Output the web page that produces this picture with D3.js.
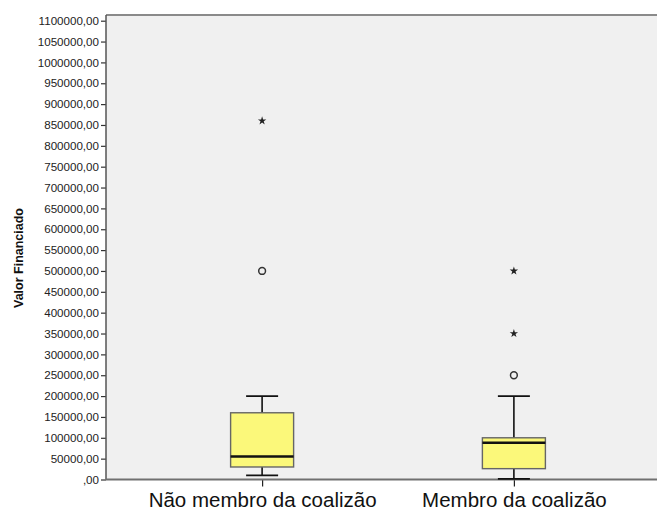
<!DOCTYPE html>
<html>
<head>
<meta charset="utf-8">
<script src="https://cdn.jsdelivr.net/npm/d3@7"></script>
<style>
  html, body { margin: 0; padding: 0; background: #ffffff; }
  svg { display: block; font-family: "Liberation Sans", Arial, sans-serif; }
</style>
</head>
<body>
<svg id="chart" width="657" height="511"></svg>
<script>
// Groups and their five-number summaries (Valor Financiado)
const categories = ["Não membro da coalizão", "Membro da coalizão"];
const whiskerLow = [10000, 1500];
const q1 = [30000, 26000];
const median = [55000, 88000];
const q3 = [160000, 100000];
const whiskerHigh = [200000, 200000];
// Outliers: circles (mild) and stars (extreme)
const mildOutliers = [[500000], [250000]];
const extremeOutliers = [[860000], [500000, 350000]];
const yTicks = d3.range(0, 1100001, 50000);

const svg = d3.select("#chart");
const plot = { left: 106, right: 670, top: 15, bottom: 479.5 };

const x = d3.scalePoint().domain(categories).range([plot.left, plot.right]).padding(0.62);
const y = d3.scaleLinear().domain([0, 1100000]).range([plot.bottom, 20.7]);

// Plot background
svg.append("rect")
  .attr("x", plot.left).attr("y", plot.top)
  .attr("width", 657 - plot.left).attr("height", plot.bottom - plot.top)
  .attr("fill", "#f0f0f0");

// Top frame line
svg.append("line")
  .attr("x1", plot.left).attr("x2", 657)
  .attr("y1", plot.top).attr("y2", plot.top)
  .attr("stroke", "#8a8a8a").attr("stroke-width", 2);

// Y axis
const fmt = d => (d === 0 ? "" : String(d)) + ",00";
const yAxis = svg.append("g")
  .attr("transform", `translate(${plot.left},0)`)
  .call(d3.axisLeft(y).tickValues(yTicks).tickFormat(fmt).tickSize(5).tickPadding(2));
yAxis.select(".domain").remove();
yAxis.selectAll(".tick line").attr("stroke", "#333").attr("stroke-width", 1.2);
yAxis.selectAll(".tick text").attr("fill", "#222").style("font-size", "11.6px");
svg.append("line")
  .attr("x1", plot.left).attr("x2", plot.left)
  .attr("y1", plot.top).attr("y2", plot.bottom)
  .attr("stroke", "#555").attr("stroke-width", 1.5);

// X axis
const xAxis = svg.append("g")
  .attr("transform", `translate(0,${plot.bottom})`)
  .call(d3.axisBottom(x).tickSize(7).tickPadding(5.5));
xAxis.select(".domain").remove();
xAxis.selectAll(".tick line").attr("stroke", "#222").attr("stroke-width", 1.2);
xAxis.selectAll(".tick text").attr("fill", "#111").style("font-size", "20.5px");
svg.append("line")
  .attr("x1", plot.left).attr("x2", 657)
  .attr("y1", plot.bottom).attr("y2", plot.bottom)
  .attr("stroke", "#707070").attr("stroke-width", 2);

// Y axis title
svg.append("text")
  .attr("transform", "translate(22.5,258) rotate(-90)")
  .attr("text-anchor", "middle")
  .style("font-size", "12.5px").style("font-weight", "bold")
  .attr("fill", "#111")
  .text("Valor Financiado");

// Box plots
const boxW = 63, capW = 32;
const groups = svg.append("g").selectAll("g")
  .data(categories.map((c, i) => ({ c, i })))
  .join("g");

groups.append("line") // whisker stem
  .attr("x1", d => x(d.c)).attr("x2", d => x(d.c))
  .attr("y1", d => y(whiskerLow[d.i])).attr("y2", d => y(whiskerHigh[d.i]))
  .attr("stroke", "#111").attr("stroke-width", 1.6);
groups.selectAll(".cap")
  .data(d => [whiskerLow[d.i], whiskerHigh[d.i]].map(v => ({ c: d.c, v })))
  .join("line")
  .attr("class", "cap")
  .attr("x1", d => x(d.c) - capW / 2).attr("x2", d => x(d.c) + capW / 2)
  .attr("y1", d => y(d.v)).attr("y2", d => y(d.v))
  .attr("stroke", "#111").attr("stroke-width", 1.6);
groups.append("rect")
  .attr("x", d => x(d.c) - boxW / 2).attr("width", boxW)
  .attr("y", d => y(q3[d.i])).attr("height", d => y(q1[d.i]) - y(q3[d.i]))
  .attr("fill", "#fbf87a").attr("stroke", "#666").attr("stroke-width", 1.4);
groups.append("line") // median
  .attr("x1", d => x(d.c) - boxW / 2).attr("x2", d => x(d.c) + boxW / 2)
  .attr("y1", d => y(median[d.i])).attr("y2", d => y(median[d.i]))
  .attr("stroke", "#111").attr("stroke-width", 2.6);

groups.selectAll(".mild")
  .data(d => mildOutliers[d.i].map(v => ({ c: d.c, v })))
  .join("circle")
  .attr("class", "mild")
  .attr("cx", d => x(d.c)).attr("cy", d => y(d.v)).attr("r", 3.4)
  .attr("fill", "none").attr("stroke", "#333").attr("stroke-width", 1.5);

groups.selectAll(".extreme")
  .data(d => extremeOutliers[d.i].map(v => ({ c: d.c, v })))
  .join("path")
  .attr("class", "extreme")
  .attr("transform", d => `translate(${x(d.c)},${y(d.v)})`)
  .attr("d", d3.symbol(d3.symbolStar, 22))
  .attr("fill", "#222");
</script>
</body>
</html>
